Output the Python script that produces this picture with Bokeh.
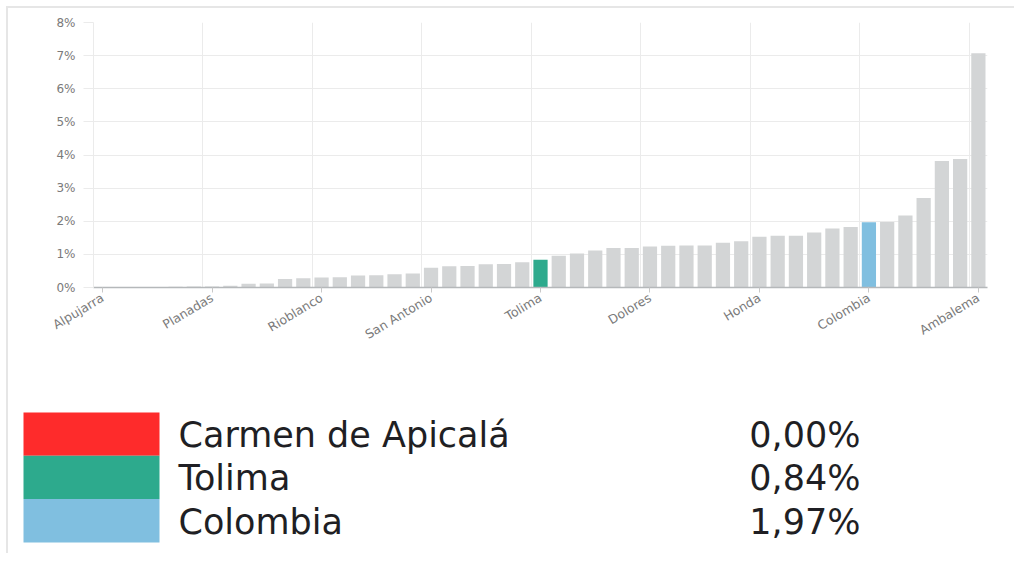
from bokeh.plotting import figure
from bokeh.layouts import column
from bokeh.models import ColumnDataSource, Range1d, FixedTicker, PrintfTickFormatter, Grid
from bokeh.core.properties import value
from bokeh.embed import file_html
from bokeh.resources import INLINE

# ---------------- data ----------------
municipios = [
    "Alpujarra", "Carmen de Apicalá", "Coello", "Murillo", "Villahermosa", "Santa Isabel",
    "Planadas", "Casabianca", "Herveo", "Roncesvalles", "Anzoátegui", "Ataco",
    "Rioblanco", "Cajamarca", "Palocabildo", "Falan", "Villarrica", "Valle de San Juan",
    "San Antonio", "Icononzo", "Cunday", "Ortega", "Coyaima", "Natagaima",
    "Tolima", "Prado", "San Luis", "Suárez", "Saldaña", "Alvarado",
    "Dolores", "Rovira", "Piedras", "Chaparral", "Fresno", "Líbano",
    "Honda", "Venadillo", "Purificación", "Lérida", "Armero", "Guamo",
    "Colombia", "Mariquita", "Espinal", "Flandes", "Ibagué", "Melgar",
    "Ambalema",
]
valores = [
    0.00, 0.00, 0.00, 0.00, 0.02, 0.03,
    0.03, 0.05, 0.11, 0.12, 0.26, 0.28,
    0.30, 0.31, 0.36, 0.37, 0.40, 0.42,
    0.60, 0.64, 0.65, 0.70, 0.71, 0.76,
    0.84, 0.96, 1.03, 1.12, 1.19, 1.19,
    1.24, 1.26, 1.27, 1.27, 1.35, 1.40,
    1.53, 1.56, 1.56, 1.66, 1.78, 1.83,
    1.97, 1.98, 2.17, 2.70, 3.82, 3.88,
    7.07,
]
tick_labels = ["Alpujarra", "Planadas", "Rioblanco", "San Antonio", "Tolima",
               "Dolores", "Honda", "Colombia", "Ambalema"]
y_ticks = [0, 1, 2, 3, 4, 5, 6, 7, 8]

legend_names = ["Carmen de Apicalá", "Tolima", "Colombia"]
legend_values = ["0,00%", "0,84%", "1,97%"]
legend_colors = ["#fe2b2b", "#2daa8d", "#80bfe0"]

bar_gray = "#d3d5d6"
highlight = dict(zip(legend_names, legend_colors))

# ---------------- chart ----------------
xs = list(range(len(municipios)))
colors = [highlight.get(n, bar_gray) for n in municipios]
src = ColumnDataSource(dict(x=xs, top=valores, color=colors, name=municipios))

W = 1006
p = figure(width=W, height=380, output_backend="svg", toolbar_location=None,
           x_range=Range1d(-0.5, len(municipios) - 0.5), y_range=Range1d(0, 8),
           min_border_left=85, min_border_right=27, min_border_top=14, min_border_bottom=101)
p.frame_align = False
p.outline_line_color = None
p.background_fill_color = "white"
p.border_fill_color = "white"

p.vbar(x="x", top="top", width=0.78, bottom=0, color="color", source=src, line_color=None)

tick_idx = [municipios.index(t) for t in tick_labels]
p.xaxis.ticker = FixedTicker(ticks=tick_idx)
p.xaxis.major_label_overrides = {i: municipios[i] for i in tick_idx}
p.xaxis.major_label_orientation = 0.54
p.xaxis.major_label_text_font = "DejaVu Sans"
p.xaxis.major_label_text_font_size = "12.5px"
p.xaxis.major_label_text_color = "#7a7a7a"
p.xaxis.axis_line_color = "#b5b8ba"
p.xaxis.axis_line_width = 1.5
p.xaxis.major_tick_line_color = "#c8c8c8"
p.xaxis.major_tick_out = 5
p.xaxis.major_tick_in = 0
p.xaxis.minor_tick_line_color = None
p.xaxis.major_label_standoff = 4

p.yaxis.ticker = FixedTicker(ticks=y_ticks)
p.yaxis.formatter = PrintfTickFormatter(format="%d%%")
p.yaxis.major_label_text_font = "DejaVu Sans"
p.yaxis.major_label_text_font_size = "12px"
p.yaxis.major_label_text_color = "#7a7a7a"
p.yaxis.axis_line_color = "#ebebeb"
p.yaxis.major_tick_line_color = "#ebebeb"
p.yaxis.major_tick_out = 10
p.yaxis.major_tick_in = 0
p.yaxis.minor_tick_line_color = None
p.yaxis.major_label_standoff = 8

p.xgrid.grid_line_color = None
p.ygrid.grid_line_color = "#ebebeb"
p.ygrid.ticker = FixedTicker(ticks=y_ticks)
vgrid = Grid(dimension=0, ticker=FixedTicker(ticks=[i - 0.5 for i in tick_idx]),
             grid_line_color="#ebebeb")
p.add_layout(vgrid)

# ---------------- legend panel ----------------
LH = 165
q = figure(width=W, height=LH, output_backend="svg", toolbar_location=None,
           x_range=Range1d(0, W), y_range=Range1d(LH, 0),
           min_border=0)
q.frame_align = False
q.axis.visible = False
q.grid.visible = False
q.outline_line_color = None
q.background_fill_color = "white"
q.border_fill_color = "white"

row_h = 43.3
row0 = 24
n = len(legend_names)
tops = [row0 + i * row_h for i in range(n)]
lsrc = ColumnDataSource(dict(
    left=[15] * n, right=[151] * n, top=tops, bottom=[t + row_h for t in tops],
    mid=[t + row_h / 2 + 1 for t in tops], color=legend_colors,
    name=legend_names, val=legend_values,
    tx=[170] * n, vx=[852] * n))
q.quad(left="left", right="right", top="top", bottom="bottom", color="color",
       line_color=None, source=lsrc)
q.text(x="tx", y="mid", text="name", source=lsrc, text_font=value("DejaVu Sans"),
       text_font_size="35px", text_color="#1f1f24", text_baseline="middle", text_align="left")
q.text(x="vx", y="mid", text="val", source=lsrc, text_font=value("DejaVu Sans"),
       text_font_size="35px", text_color="#1f1f24", text_baseline="middle", text_align="right")

layout = column(p, q, styles={"margin-top": "6px", "margin-left": "6px",
                              "border-top": "2px solid #e6e6e6",
                              "border-left": "2px solid #e6e6e6"})
open("out.html", "w").write(file_html(layout, INLINE))
